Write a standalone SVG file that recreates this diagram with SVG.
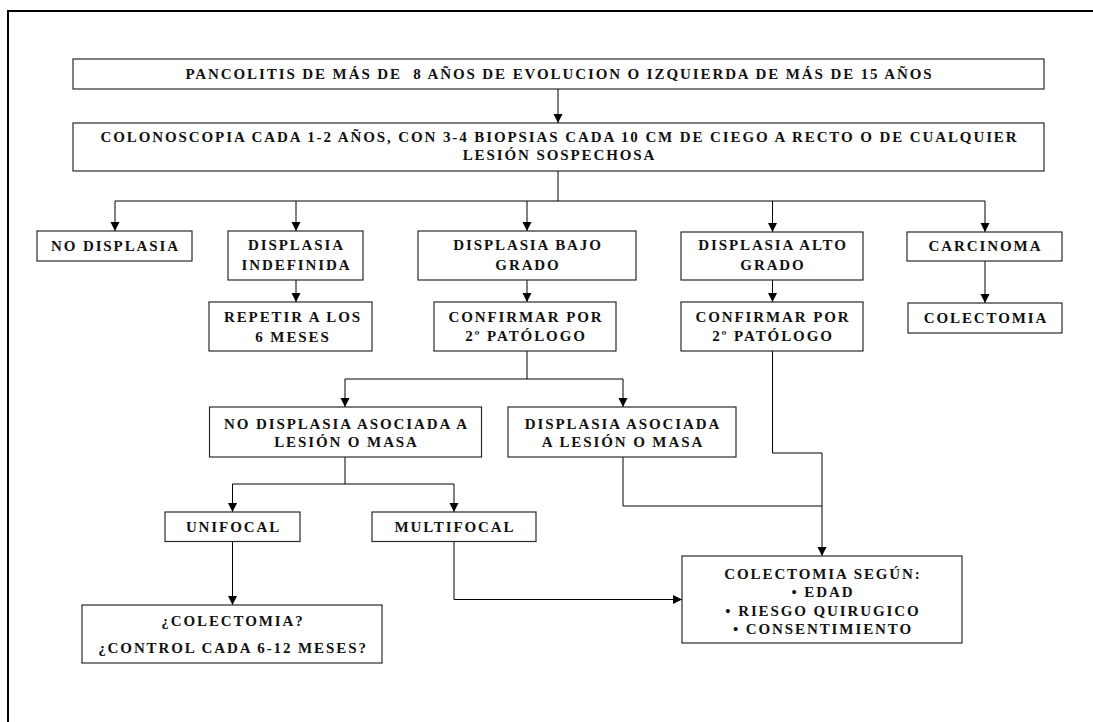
<svg xmlns="http://www.w3.org/2000/svg" width="1093" height="722" viewBox="0 0 1093 722">
<defs>
<style>
.b{fill:#fff;stroke:#2a2a2a;stroke-width:1.2}
.t{font-family:"Liberation Serif","Times New Roman",serif;font-weight:bold;font-size:15px;letter-spacing:1.9px;text-anchor:middle;fill:#111;white-space:pre}
.c{fill:none;stroke:#000;stroke-width:1}
.a{marker-end:url(#ah)}
</style>
<marker id="ah" markerWidth="10" markerHeight="10" refX="9" refY="5" orient="auto" markerUnits="userSpaceOnUse"><path d="M0,0.5 L9,5 L0,9.5 z" fill="#000"/></marker>
</defs>
<rect width="1093" height="722" fill="#fff"/>
<path d="M8,722 V11 H1093" fill="none" stroke="#000" stroke-width="2"/>
<g id="connectors">
<path class="c a" d="M558,89 V123"/>
<path class="c" d="M558,171 V201 M115,201 H985"/>
<path class="c a" d="M115,201 V231"/>
<path class="c a" d="M296,201 V231"/>
<path class="c a" d="M527,201 V231"/>
<path class="c a" d="M772.5,201 V232"/>
<path class="c a" d="M985,201 V232"/>
<path class="c a" d="M296,280 V302"/>
<path class="c a" d="M527,280 V302"/>
<path class="c a" d="M772.5,280 V302"/>
<path class="c a" d="M985,261 V303"/>
<path class="c" d="M527,351 V379 M345,379 H623"/>
<path class="c a" d="M345,379 V407"/>
<path class="c a" d="M623,379 V407"/>
<path class="c" d="M345,457 V484 M232.5,484 H454"/>
<path class="c a" d="M232.5,484 V512"/>
<path class="c a" d="M454,484 V512"/>
<path class="c a" d="M232.5,541.5 V605"/>
<path class="c a" d="M454,541.5 V599.5 H682"/>
<path class="c" d="M623,457 V506 H822"/>
<path class="c a" d="M772.5,351 V453 H822 V556"/>
</g>
<g id="n1"><rect class="b" x="73" y="59" width="971" height="30"/><text class="t" x="559.5" y="79">PANCOLITIS DE MÁS DE  8 AÑOS DE EVOLUCION O IZQUIERDA DE MÁS DE 15 AÑOS</text></g>
<g id="n2"><rect class="b" x="73" y="123" width="971" height="48"/><text class="t" x="559.5" y="142">COLONOSCOPIA CADA 1-2 AÑOS, CON 3-4 BIOPSIAS CADA 10 CM DE CIEGO A RECTO O DE CUALQUIER</text><text class="t" x="559.5" y="160">LESIÓN SOSPECHOSA</text></g>
<g id="n3"><rect class="b" x="37" y="231" width="155" height="30"/><text class="t" x="115.5" y="251">NO DISPLASIA</text></g>
<g id="n4"><rect class="b" x="228" y="231" width="135" height="49"/><text class="t" x="296.5" y="250">DISPLASIA</text><text class="t" x="296.5" y="270">INDEFINIDA</text></g>
<g id="n5"><rect class="b" x="418" y="231" width="218" height="49"/><text class="t" x="528" y="250">DISPLASIA BAJO</text><text class="t" x="528" y="270">GRADO</text></g>
<g id="n6"><rect class="b" x="681" y="232" width="182" height="48"/><text class="t" x="773" y="250">DISPLASIA ALTO</text><text class="t" x="773" y="270">GRADO</text></g>
<g id="n7"><rect class="b" x="907" y="232" width="155" height="29"/><text class="t" x="985.5" y="251">CARCINOMA</text></g>
<g id="n8"><rect class="b" x="209" y="302" width="163" height="49"/><text class="t" x="293" y="322">REPETIR A LOS</text><text class="t" x="293" y="342">6 MESES</text></g>
<g id="n9"><rect class="b" x="434" y="302" width="182" height="49"/><text class="t" x="526" y="322">CONFIRMAR POR</text><text class="t" x="526" y="341">2º PATÓLOGO</text></g>
<g id="n10"><rect class="b" x="681" y="302" width="182" height="49"/><text class="t" x="773" y="322">CONFIRMAR POR</text><text class="t" x="773" y="341">2º PATÓLOGO</text></g>
<g id="n11"><rect class="b" x="908" y="303" width="154" height="30"/><text class="t" x="986" y="323">COLECTOMIA</text></g>
<g id="n12"><rect class="b" x="209.5" y="407" width="272" height="50"/><text class="t" x="346.5" y="428.5">NO DISPLASIA ASOCIADA A</text><text class="t" x="346.5" y="447">LESIÓN O MASA</text></g>
<g id="n13"><rect class="b" x="508" y="407" width="228" height="50"/><text class="t" x="623" y="428.5">DISPLASIA ASOCIADA</text><text class="t" x="623" y="447">A LESIÓN O MASA</text></g>
<g id="n14"><rect class="b" x="165" y="512" width="135" height="29.5"/><text class="t" x="233.5" y="532">UNIFOCAL</text></g>
<g id="n15"><rect class="b" x="372" y="512" width="164" height="29.5"/><text class="t" x="455" y="532">MULTIFOCAL</text></g>
<g id="n16"><rect class="b" x="82" y="605" width="300" height="58"/><text class="t" x="233" y="626">¿COLECTOMIA?</text><text class="t" x="233" y="653">¿CONTROL CADA 6-12 MESES?</text></g>
<g id="n17"><rect class="b" x="682" y="556" width="280" height="87"/><text class="t" x="823" y="579">COLECTOMIA SEGÚN:</text><text class="t" x="823" y="597">• EDAD</text><text class="t" x="823" y="615.5">• RIESGO QUIRUGICO</text><text class="t" x="823" y="634">• CONSENTIMIENTO</text></g>
</svg>
